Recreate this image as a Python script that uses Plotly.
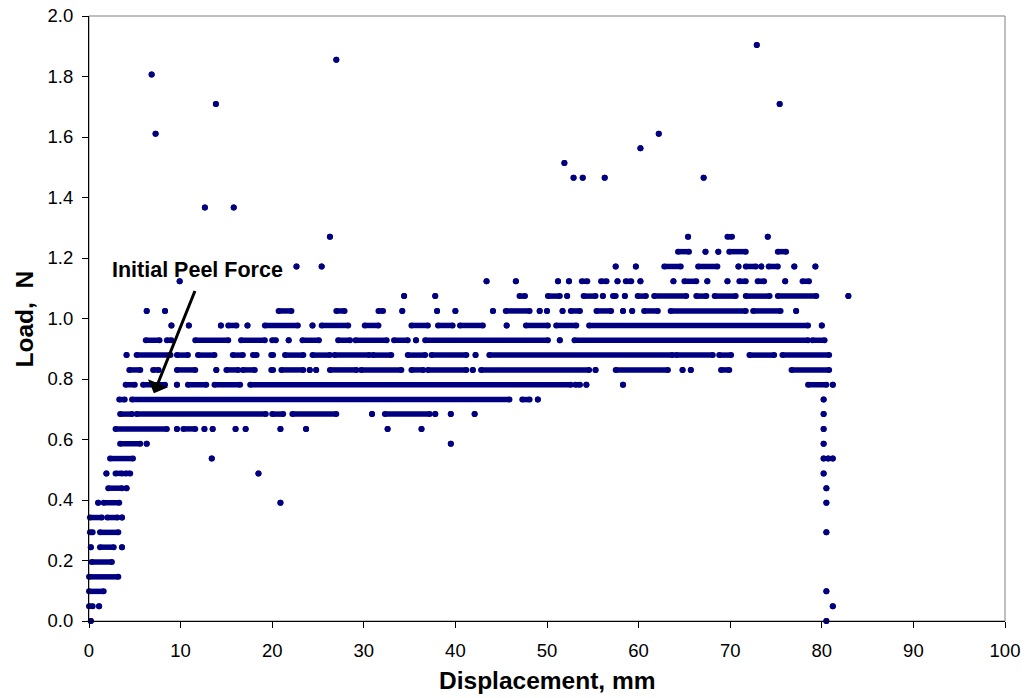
import plotly.graph_objects as go

# ---------------- data ----------------
# Load levels (N) at which recorded points sit (the load cell is quantised)
load_levels = [0.000, 0.049, 0.098, 0.146, 0.195, 0.244, 0.293, 0.342, 0.391,
               0.439, 0.488, 0.537, 0.586, 0.635, 0.684, 0.732, 0.781, 0.830,
               0.879, 0.928, 0.977, 1.025, 1.074, 1.123, 1.172, 1.221, 1.270,
               1.367, 1.465, 1.514, 1.563, 1.611, 1.709, 1.807, 1.855, 1.904]

# Displacement (mm) stretches of recorded points at each load level: [start, end]
# (start == end is a single isolated point)
r000 = [[0.2, 0.2], [80.5, 80.5]]
r049 = [[0.0, 0.4], [1.1, 1.1], [81.2, 81.2]]
r098 = [[0.0, 1.6], [80.5, 80.5]]
r146 = [[0.0, 3.2]]
r195 = [[0.3, 2.5]]
r244 = [[0.2, 0.2], [1.2, 2.7], [3.6, 3.6]]
r293 = [[0.1, 0.4], [1.2, 3.2], [80.5, 80.5]]
r342 = [[0.1, 1.4], [2.0, 3.1], [3.6, 3.6]]
r391 = [[1.0, 1.0], [1.6, 3.3], [20.9, 20.9], [80.5, 80.5]]
r439 = [[2.1, 3.6], [4.1, 4.1], [80.5, 80.5]]
r488 = [[1.9, 1.9], [2.9, 3.6], [4.0, 4.5], [18.5, 18.5], [80.2, 80.2]]
r537 = [[2.3, 4.8], [13.4, 13.4], [80.2, 80.2], [80.7, 80.7], [81.2, 81.2]]
r586 = [[3.4, 5.6], [6.3, 6.3], [39.5, 39.5], [80.2, 80.2]]
r635 = [[2.9, 8.5], [9.6, 9.6], [10.3, 11.6], [12.6, 12.6], [13.5, 13.5],
        [16.0, 16.0], [17.1, 17.1], [20.9, 20.9], [23.7, 23.7], [32.6, 32.6],
        [36.3, 36.3], [80.2, 80.2]]
r684 = [[3.4, 4.7], [5.2, 19.3], [20.0, 21.2], [22.2, 27.0], [30.9, 30.9],
        [32.3, 37.2], [37.8, 37.8], [39.5, 39.5], [42.1, 42.1], [80.2, 80.2]]
r732 = [[3.3, 3.9], [4.7, 45.9], [47.3, 48.1], [49.0, 49.0], [80.2, 80.2]]
r781 = [[4.0, 5.0], [5.9, 8.3], [9.6, 9.6], [10.8, 12.8], [13.7, 16.5],
        [17.6, 52.6], [53.1, 53.6], [54.3, 54.3], [58.3, 58.3], [78.5, 80.5],
        [81.2, 81.2]]
r830 = [[4.4, 5.6], [7.0, 7.6], [9.6, 11.6], [13.9, 13.9], [15.0, 16.3],
        [16.8, 18.1], [19.9, 20.1], [21.0, 23.4], [24.1, 24.1], [24.8, 24.8],
        [26.3, 29.2], [29.7, 34.1], [35.2, 36.5], [37.0, 41.2], [41.9, 41.9],
        [42.8, 54.6], [55.3, 55.3], [57.5, 63.2], [64.8, 64.8], [65.7, 65.7],
        [69.0, 69.9], [76.7, 80.8]]
r879 = [[4.1, 4.1], [5.2, 8.9], [9.6, 10.8], [11.9, 13.7], [15.7, 16.8],
        [17.9, 18.3], [19.9, 20.1], [21.4, 23.4], [24.4, 26.3], [26.8, 30.6],
        [31.0, 33.0], [34.8, 36.7], [37.4, 41.2], [42.2, 42.2], [43.7, 63.7],
        [64.1, 68.1], [68.8, 70.1], [72.1, 74.8], [75.7, 80.8]]
r928 = [[6.2, 7.7], [8.5, 9.0], [11.6, 15.2], [16.6, 19.2], [20.0, 20.4],
        [21.8, 21.8], [23.3, 25.1], [27.2, 28.5], [29.1, 32.5], [33.3, 34.8],
        [35.7, 35.7], [36.7, 50.1], [51.4, 51.4], [53.0, 78.5], [79.0, 80.3]]
r977 = [[9.0, 9.0], [10.9, 10.9], [14.4, 14.4], [15.2, 16.1], [17.3, 17.3],
        [19.2, 22.8], [24.4, 24.4], [25.4, 28.3], [30.1, 31.6], [35.2, 37.0],
        [38.1, 39.7], [40.5, 43.0], [45.6, 45.6], [47.7, 50.1], [51.0, 53.2],
        [54.6, 78.5], [80.0, 80.0]]
r1025 = [[6.3, 6.3], [8.3, 8.3], [20.7, 22.1], [27.0, 27.9], [31.6, 32.1],
         [34.2, 34.2], [38.0, 38.0], [40.0, 40.0], [44.1, 44.1], [45.5, 48.1],
         [49.2, 49.2], [50.0, 50.0], [51.7, 51.7], [52.6, 53.6], [55.4, 57.0],
         [58.3, 58.3], [59.3, 59.3], [60.6, 62.1], [63.5, 71.7], [72.5, 75.5],
         [77.2, 77.2]]
r1074 = [[34.4, 34.4], [37.8, 37.8], [47.0, 47.6], [50.1, 51.4], [52.2, 52.2],
         [54.0, 55.3], [56.1, 56.1], [57.2, 57.5], [58.5, 58.5], [59.9, 60.8],
         [61.7, 65.2], [66.3, 67.4], [68.3, 70.6], [71.7, 74.3], [75.2, 79.4],
         [82.9, 82.9]]
r1123 = [[9.9, 9.9], [43.4, 43.4], [46.6, 46.6], [51.2, 51.2], [52.4, 52.4],
         [53.8, 54.4], [55.9, 56.5], [57.7, 57.7], [58.6, 59.2], [60.2, 60.2],
         [63.8, 63.8], [65.0, 66.3], [67.5, 67.5], [69.7, 69.7], [71.0, 71.7],
         [73.0, 73.7], [76.0, 76.0], [77.9, 78.6]]
r1172 = [[22.65, 22.65], [25.4, 25.4], [57.5, 57.5], [59.7, 59.7], [62.8, 64.6],
         [66.5, 68.6], [70.9, 70.9], [71.7, 72.8], [73.4, 73.4], [74.2, 75.2],
         [77.0, 77.0], [79.3, 79.3]]
r1221 = [[64.3, 65.5], [67.3, 67.3], [68.7, 68.7], [69.9, 71.7], [75.2, 76.1]]
r1270 = [[26.3, 26.3], [65.4, 65.4], [69.7, 70.2], [74.1, 74.1]]
r1367 = [[12.65, 12.65], [15.8, 15.8]]
r1465 = [[52.9, 52.9], [53.9, 53.9], [56.3, 56.3], [67.1, 67.1]]
r1514 = [[51.9, 51.9]]
r1563 = [[60.2, 60.2]]
r1611 = [[7.27, 7.27], [62.2, 62.2]]
r1709 = [[13.85, 13.85], [75.4, 75.4]]
r1807 = [[6.84, 6.84]]
r1855 = [[27.0, 27.0]]
r1904 = [[72.9, 72.9]]

runs_by_level = [r000, r049, r098, r146, r195, r244, r293, r342, r391, r439,
                 r488, r537, r586, r635, r684, r732, r781, r830, r879, r928,
                 r977, r1025, r1074, r1123, r1172, r1221, r1270, r1367, r1465,
                 r1514, r1563, r1611, r1709, r1807, r1855, r1904]

x_ticks = [0, 10, 20, 30, 40, 50, 60, 70, 80, 90, 100]
y_ticks = [0.0, 0.2, 0.4, 0.6, 0.8, 1.0, 1.2, 1.4, 1.6, 1.8, 2.0]

# annotation: label and arrow (tail -> tip) in data units
label_text = "Initial Peel Force"
label_pos = (11.83, 1.162)
arrow_tail = (11.63, 1.096)
arrow_tip = (7.09, 0.753)

# ---------------- build the figure ----------------
xs, ys = [], []
for load, runs in zip(load_levels, runs_by_level):
    for s, e in runs:
        xs += [s, e, None]
        ys += [load, load, None]

NAVY = "#000080"
DOT = 6
FONT = "Liberation Sans, Arial, Helvetica, sans-serif"

fig = go.Figure()
fig.add_trace(go.Scatter(
    x=xs, y=ys, mode="lines+markers",
    line=dict(color=NAVY, width=DOT - 0.5),
    marker=dict(color=NAVY, size=DOT, line=dict(width=0)),
    cliponaxis=False, hoverinfo="skip", showlegend=False,
))

fig.update_layout(
    template="none",
    width=1028, height=698,
    margin=dict(l=89, r=23, t=16, b=77, autoexpand=False),
    paper_bgcolor="white", plot_bgcolor="white",
    font=dict(family=FONT, color="black", size=18.5),
    showlegend=False,
    shapes=[dict(type="rect", xref="paper", yref="paper", x0=0, x1=1, y0=0, y1=1,
                 line=dict(color="#808080", width=1), layer="below")],
)

axis_common = dict(showgrid=False, zeroline=False, showline=True, automargin=False,
                   linecolor="black", linewidth=1, ticks="outside",
                   ticklen=6, tickwidth=1, tickcolor="black",
                   tickfont=dict(family=FONT, size=18.5, color="black"))
fig.update_xaxes(range=[0, 100], tickvals=x_ticks, ticklabelstandoff=7,
                 ticktext=[str(v) for v in x_ticks], **axis_common)
fig.update_yaxes(range=[0, 2.0], tickvals=y_ticks, ticklabelstandoff=5,
                 ticktext=[f"{v:.1f}" for v in y_ticks], **axis_common)

# axis titles
fig.add_annotation(text="<b>Displacement, mm</b>", xref="paper", yref="paper",
                   x=0.5, y=-0.0983, xanchor="center", yanchor="middle",
                   showarrow=False, font=dict(family=FONT, size=24.5, color="black"))
fig.add_annotation(text="<b>Load,\u00a0 N</b>", xref="paper", yref="paper",
                   x=-0.0699, y=0.5, xanchor="center", yanchor="middle",
                   textangle=-90, showarrow=False,
                   font=dict(family=FONT, size=24.5, color="black"))

# peel-force label and arrow
fig.add_annotation(text=f"<b>{label_text}</b>", x=label_pos[0], y=label_pos[1],
                   xref="x", yref="y", xanchor="center", yanchor="middle",
                   showarrow=False, font=dict(family=FONT, size=21.5, color="black"))
fig.add_annotation(text="", x=arrow_tip[0], y=arrow_tip[1], xref="x", yref="y",
                   ax=arrow_tail[0], ay=arrow_tail[1], axref="x", ayref="y",
                   showarrow=True, arrowhead=1, arrowsize=1.2, arrowwidth=3,
                   arrowcolor="black", standoff=0, startstandoff=0)

fig.write_html("out.html")
